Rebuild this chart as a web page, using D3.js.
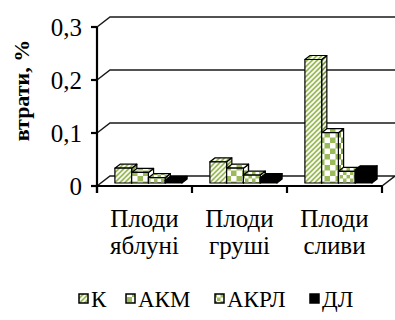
<!DOCTYPE html>
<html>
<head>
<meta charset="utf-8">
<script src="https://cdn.jsdelivr.net/npm/d3@7"></script>
<style>
  html, body { margin: 0; padding: 0; background: #fff; }
  svg { display: block; }
</style>
</head>
<body>
<svg id="chart" width="395" height="320"></svg>
<script>
// Categories (two-line labels) and series
const categories = ["Плоди яблуні", "Плоди груші", "Плоди сливи"];
const categoryLines = [["Плоди", "яблуні"], ["Плоди", "груші"], ["Плоди", "сливи"]];
const seriesNames = ["К", "АКМ", "АКРЛ", "ДЛ"];

// Losses, % (one array per series, in category order)
const valuesK    = [0.028, 0.040, 0.233];
const valuesAKM  = [0.020, 0.028, 0.095];
const valuesAKRL = [0.010, 0.015, 0.022];
const valuesDL   = [0.005, 0.010, 0.025];

const yTicks = [0, 0.1, 0.2, 0.3];
const yTickLabels = ["0", "0,1", "0,2", "0,3"];
const yTitle = "втрати, %";

const seriesValues = [valuesK, valuesAKM, valuesAKRL, valuesDL];

const svg = d3.select("#chart");
const serif = '"Liberation Serif"';
const green = "#9bbb59";
const greenDark = "#7f9c45";

// ---- fill patterns ----
const defs = svg.append("defs");
function stripes(id, bg) {
  const p = defs.append("pattern").attr("id", id).attr("patternUnits", "userSpaceOnUse")
    .attr("width", 5).attr("height", 5);
  p.append("rect").attr("width", 5).attr("height", 5).attr("fill", bg);
  p.append("path").attr("d", "M-1,6 L6,-1 M-1,1 L1,-1 M4,6 L6,4")
    .attr("stroke", "#fff").attr("stroke-width", 1.6);
}
function checker(id, bg, cell) {
  const s = cell * 2;
  const p = defs.append("pattern").attr("id", id).attr("patternUnits", "userSpaceOnUse")
    .attr("width", s).attr("height", s);
  p.append("rect").attr("width", s).attr("height", s).attr("fill", bg);
  p.append("rect").attr("width", cell).attr("height", cell).attr("fill", "#fff");
  p.append("rect").attr("x", cell).attr("y", cell).attr("width", cell).attr("height", cell).attr("fill", "#fff");
}
stripes("pK", green);
stripes("pKs", greenDark);
checker("pAKM", green, 5.5);
checker("pAKMs", greenDark, 5.5);
checker("pAKRL", green, 3.5);
checker("pAKRLs", greenDark, 3.5);

const fills = [
  { front: "url(#pK)", side: "url(#pKs)", top: "url(#pK)" },
  { front: "url(#pAKM)", side: "url(#pAKMs)", top: "url(#pAKM)" },
  { front: "url(#pAKRL)", side: "url(#pAKRLs)", top: "url(#pAKRL)" },
  { front: "#000", side: "#000", top: "#000" }
];

// ---- scales ----
const plotLeft = 97, plotRight = 382;
const depthX = 13, depthY = 10;        // oblique depth of the 3D box
const x = d3.scaleBand().domain(categories).range([plotLeft, plotRight]).paddingInner(0).paddingOuter(0);
const xs = d3.scaleBand().domain(seriesNames).range([0, x.bandwidth()]).paddingInner(0).paddingOuter(0.836);
const y = d3.scaleLinear().domain([0, 0.3]).range([186, 27]);

// ---- back wall gridlines and floor ----
const grid = svg.append("g");
yTicks.slice(1).forEach(v => {
  grid.append("path")
    .attr("d", `M${plotLeft},${y(v)} L${plotLeft + depthX},${y(v) - depthY} L${plotRight + depthX},${y(v) - depthY}`)
    .attr("fill", "none").attr("stroke", "#1a1a1a").attr("stroke-width", 1.5);
});
grid.append("path")
  .attr("d", `M${plotLeft},${y(0)} L${plotLeft + depthX},${y(0) - depthY} L${plotRight + depthX},${y(0) - depthY} L${plotRight},${y(0)} Z`)
  .attr("fill", "#fff").attr("stroke", "#1a1a1a").attr("stroke-width", 1.5);

// ---- 3D bars ----
const f1 = 0.3, f2 = 0.7;   // bar depth range within the box
const bars = svg.append("g").attr("stroke", "#000").attr("stroke-width", 1.2).attr("stroke-linejoin", "round");
categories.forEach((c, ci) => {
  seriesNames.forEach((s, si) => {
    const v = seriesValues[si][ci];
    const xl = x(c) + xs(s) + depthX * f1;
    const xr = xl + xs.bandwidth();
    const yb = y(0) - depthY * f1;
    const yt = y(v) - depthY * f1;
    const ddx = depthX * (f2 - f1), ddy = depthY * (f2 - f1);
    const g = bars.append("g");
    g.append("path").attr("d", `M${xr},${yt} L${xr + ddx},${yt - ddy} L${xr + ddx},${yb - ddy} L${xr},${yb} Z`)
      .attr("fill", fills[si].side);
    g.append("path").attr("d", `M${xl},${yt} L${xl + ddx},${yt - ddy} L${xr + ddx},${yt - ddy} L${xr},${yt} Z`)
      .attr("fill", fills[si].top);
    g.append("rect").attr("x", xl).attr("y", yt).attr("width", xr - xl).attr("height", yb - yt)
      .attr("fill", fills[si].front);
  });
});

// ---- axes ----
const axes = svg.append("g").attr("stroke", "#000").attr("stroke-width", 2.2).attr("fill", "none");
axes.append("line").attr("x1", plotLeft).attr("x2", plotLeft).attr("y1", y(0.3)).attr("y2", y(0) + 7);
axes.append("line").attr("x1", plotLeft - 6).attr("x2", plotRight).attr("y1", y(0)).attr("y2", y(0));
yTicks.forEach(v => {
  axes.append("line").attr("x1", plotLeft - 6).attr("x2", plotLeft).attr("y1", y(v)).attr("y2", y(v));
});
[plotLeft, ...categories.map(c => x(c) + x.bandwidth())].forEach(px => {
  axes.append("line").attr("x1", px).attr("x2", px).attr("y1", y(0)).attr("y2", y(0) + 7);
});

// tick labels
svg.append("g").selectAll("text").data(yTicks).join("text")
  .style("font-family", serif)
  .attr("x", plotLeft - 15).attr("y", d => y(d)).attr("dy", "0.35em")
  .attr("text-anchor", "end").attr("font-size", 25)
  .text((d, i) => yTickLabels[i]);

// y title
svg.append("text")
  .style("font-family", serif)
  .attr("transform", `translate(29,${(y(0) + y(0.3)) / 2 - 16}) rotate(-90)`)
  .attr("text-anchor", "middle").attr("font-size", 22).attr("font-weight", "bold")
  .text(yTitle);

// category labels
const cat = svg.append("g");
categoryLines.forEach((lines, ci) => {
  const cx = x(categories[ci]) + x.bandwidth() / 2;
  lines.forEach((t, li) => {
    cat.append("text").style("font-family", serif)
      .attr("x", cx).attr("y", 227 + li * 27)
      .attr("text-anchor", "middle").attr("font-size", 25).text(t);
  });
});

// ---- legend ----
const legendX = [79, 126, 215, 310];
const leg = svg.append("g");
seriesNames.forEach((s, i) => {
  leg.append("rect").attr("x", legendX[i]).attr("y", 294).attr("width", 9).attr("height", 9)
    .attr("fill", fills[i].front).attr("stroke", "#000").attr("stroke-width", 1.5);
  leg.append("text").style("font-family", serif)
    .attr("x", legendX[i] + 12).attr("y", 307).attr("font-size", 23).text(s);
});
</script>
</body>
</html>
